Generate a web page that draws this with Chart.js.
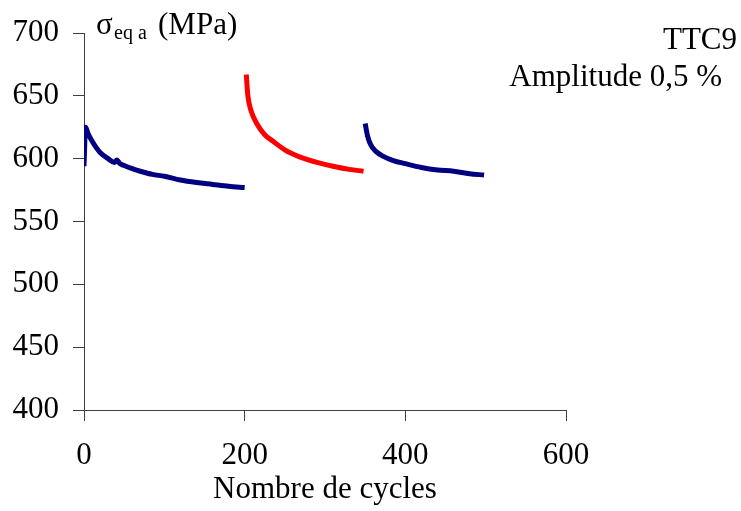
<!DOCTYPE html>
<html>
<head>
<meta charset="utf-8">
<script src="https://cdn.jsdelivr.net/npm/chart.js@4.4.0/dist/chart.umd.min.js"></script>
<style>
	html, body { margin: 0; padding: 0; background: #fff; }
	#wrap { width: 741px; height: 511px; position: relative; }
</style>
</head>
<body>
<div id="wrap"><canvas id="cyclesChart"></canvas></div>
<script>
// essai TTC9, amplitude 0,5 %
var seg1X = [0, 2, 5, 10, 15, 20, 30, 38, 41, 44, 50, 60, 70, 85, 100, 120, 140, 160, 180, 200];
var seg1Y = [594, 625, 620, 614, 609, 605, 600, 597, 599, 596.5, 594.5, 592, 590, 587.5, 586, 583, 581, 579.5, 578, 577];

var seg2X = [202, 204, 208, 215, 225, 235, 250, 270, 290, 310, 330, 348];
var seg2Y = [667, 650, 638, 628, 619, 614, 607, 601, 597, 594, 591.5, 590];

var seg3X = [350, 353, 357, 363, 372, 385, 400, 420, 440, 460, 480, 498];
var seg3Y = [628, 618, 611, 606, 602, 598.5, 596, 593, 591, 590, 588, 587];

var xTicks = [0, 200, 400, 600];
var yTicks = [400, 450, 500, 550, 600, 650, 700];

var FONT = "'Liberation Serif', 'Times New Roman', serif";

function toPoints(xs, ys) {
	var pts = new Array();
	xs.forEach(function(x, i) {
		pts.push({ x: x, y: ys[i] });
	});
	return pts;
}

function makeDataset(xs, ys, color) {
	return {
		data: toPoints(xs, ys),
		borderColor: color,
		backgroundColor: color,
		borderWidth: 5,
		pointRadius: 0,
		showLine: true,
		fill: false,
		cubicInterpolationMode: 'monotone'
	};
}

// textes libres : titre d'axe y et annotation
var textPlugin = {
	id: 'texts',
	afterDraw: function(chart) {
		var ctx = chart.ctx;
		ctx.save();
		ctx.fillStyle = '#000';
		ctx.textBaseline = 'alphabetic';

		ctx.textAlign = 'left';
		ctx.font = '31px ' + FONT;
		ctx.fillText('σ', 96, 34);
		ctx.font = '20px ' + FONT;
		ctx.fillText('eq a', 114, 39);
		ctx.font = '31px ' + FONT;
		ctx.fillText('(MPa)', 158, 34);

		ctx.textAlign = 'right';
		ctx.fillText('TTC9', 737, 49);
		ctx.fillText('Amplitude 0,5 %', 722, 86);
		ctx.restore();
	}
};

var ctx = document.getElementById('cyclesChart');
var cyclesChart = new Chart(ctx, {
	type: 'scatter',
	data: {
		datasets: [
			makeDataset(seg1X, seg1Y, '#000080'),
			makeDataset(seg2X, seg2Y, '#ff0000'),
			makeDataset(seg3X, seg3Y, '#000080')
		]
	},
	options: {
		responsive: true,
		maintainAspectRatio: false,
		animation: false,
		layout: {
			padding: { top: 33, right: 175, bottom: 0, left: 0 }
		},
		plugins: {
			legend: { display: false },
			tooltip: { enabled: false }
		},
		scales: {
			x: {
				type: 'linear',
				min: 0,
				max: 600,
				afterBuildTicks: function(scale) {
					scale.ticks = xTicks.map(function(v) { return { value: v }; });
				},
				afterFit: function(scale) { scale.height = 101; },
				border: { display: true, color: '#404040', width: 1 },
				grid: { drawOnChartArea: false, drawTicks: true, tickLength: 11, tickColor: '#404040' },
				ticks: {
					padding: 16,
					color: '#000',
					font: { family: FONT, size: 31 },
					maxRotation: 0
				},
				title: {
					display: true,
					text: 'Nombre de cycles',
					color: '#000',
					font: { family: FONT, size: 31 },
					padding: { top: 0, bottom: 3 }
				}
			},
			y: {
				type: 'linear',
				min: 400,
				max: 700,
				afterBuildTicks: function(scale) {
					scale.ticks = yTicks.map(function(v) { return { value: v }; });
				},
				afterFit: function(scale) { scale.width = 84; },
				border: { display: true, color: '#404040', width: 1 },
				grid: { drawOnChartArea: false, drawTicks: true, tickLength: 11, tickColor: '#404040' },
				ticks: {
					padding: 14,
					color: '#000',
					font: { family: FONT, size: 31 }
				}
			}
		}
	},
	plugins: [textPlugin]
});
</script>
</body>
</html>
